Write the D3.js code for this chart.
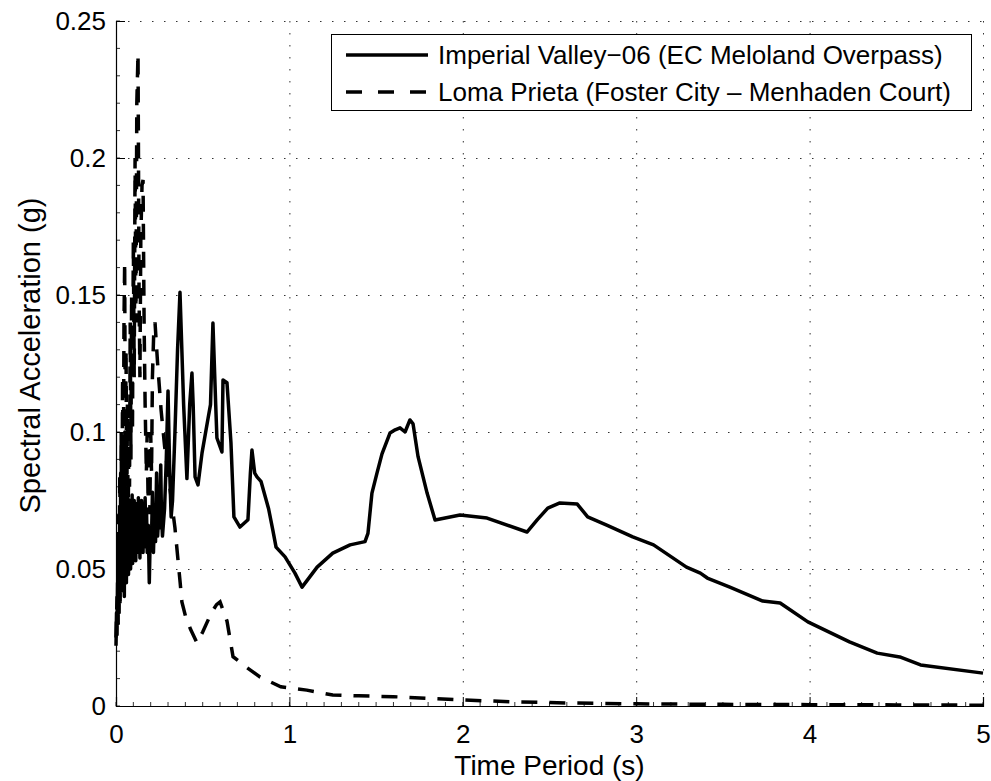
<!DOCTYPE html>
<html>
<head>
<meta charset="utf-8">
<script src="https://cdn.jsdelivr.net/npm/d3@7"></script>
<style>
  html, body { margin: 0; padding: 0; background: #fff; }
  svg { display: block; }
  text { font-family: "Liberation Sans", Arial, Helvetica, sans-serif; fill: #000; }
</style>
</head>
<body>
<svg id="chart" width="991" height="781"></svg>
<script>
// ---------------- DATA ----------------
const seriesNames = ["Imperial Valley\u221206 (EC Meloland Overpass)", "Loma Prieta (Foster City \u2013 Menhaden Court)"];

const xTicks = [0, 1, 2, 3, 4, 5];
const yTicks = [0, 0.05, 0.1, 0.15, 0.2, 0.25];
const yTickLabels = ["0", "0.05", "0.1", "0.15", "0.2", "0.25"];
const xLabel = "Time Period (s)";
const yLabel = "Spectral Acceleration (g)";

// Imperial Valley-06 (solid) : [period s, Sa g]
const imperialValley = [
  [0,0.022],[0.003,0.034],[0.006,0.026],[0.009,0.045],[0.012,0.030],[0.015,0.058],[0.018,0.034],
  [0.021,0.068],[0.024,0.038],[0.027,0.085],[0.030,0.042],[0.033,0.098],[0.036,0.046],[0.039,0.090],
  [0.042,0.044],[0.045,0.082],[0.048,0.040],[0.051,0.100],[0.054,0.050],[0.057,0.078],[0.060,0.045],
  [0.063,0.074],[0.066,0.052],[0.069,0.076],[0.072,0.048],[0.075,0.073],[0.078,0.054],[0.081,0.075],
  [0.084,0.050],[0.087,0.074],[0.090,0.056],[0.093,0.077],[0.096,0.052],[0.099,0.072],[0.102,0.055],
  [0.105,0.075],[0.108,0.058],[0.111,0.073],[0.114,0.053],[0.117,0.070],[0.120,0.056],[0.123,0.074],
  [0.126,0.060],[0.129,0.076],[0.132,0.056],[0.135,0.070],[0.138,0.054],[0.141,0.074],[0.144,0.058],
  [0.147,0.075],[0.150,0.060],[0.153,0.072],[0.156,0.056],[0.160,0.074],[0.164,0.058],[0.168,0.076],
  [0.172,0.060],[0.176,0.072],[0.180,0.056],[0.186,0.066],[0.192,0.045],[0.198,0.064],
  [0.204,0.058],[0.210,0.078],[0.216,0.056],[0.222,0.070],[0.228,0.060],[0.234,0.085],[0.240,0.062],
  [0.246,0.069],[0.250,0.065],[0.258,0.088],[0.262,0.070],[0.268,0.062],[0.280,0.072],[0.290,0.090],
  [0.300,0.115],[0.310,0.085],[0.318,0.069],[0.326,0.075],[0.340,0.100],[0.355,0.130],[0.369,0.151],
  [0.390,0.110],[0.409,0.083],[0.425,0.110],[0.438,0.1215],[0.445,0.110],[0.456,0.0836],[0.473,0.0807],
  [0.496,0.0923],[0.531,0.105],[0.545,0.110],[0.559,0.1398],[0.575,0.110],[0.582,0.0978],[0.611,0.0927],
  [0.617,0.119],[0.640,0.118],[0.663,0.096],[0.680,0.069],[0.715,0.0653],[0.761,0.068],[0.775,0.085],
  [0.784,0.0934],[0.800,0.085],[0.813,0.0836],[0.836,0.082],[0.880,0.072],[0.905,0.064],[0.923,0.058],
  [0.975,0.0544],[1.032,0.0485],[1.073,0.0434],[1.160,0.0507],[1.250,0.0558],[1.350,0.0588],[1.436,0.060],
  [1.453,0.063],[1.476,0.0777],[1.505,0.085],[1.534,0.092],[1.580,0.0996],[1.610,0.1008],[1.638,0.1015],
  [1.667,0.100],[1.695,0.1044],[1.713,0.103],[1.742,0.091],[1.794,0.0777],[1.840,0.0679],[1.984,0.0697],
  [2.140,0.0686],[2.370,0.0635],[2.430,0.068],[2.490,0.0722],[2.560,0.0741],[2.660,0.0737],[2.720,0.069],
  [2.830,0.066],[2.980,0.0617],[3.100,0.0588],[3.290,0.0507],[3.370,0.0485],[3.410,0.0467],[3.540,0.0434],
  [3.730,0.0383],[3.830,0.0376],[3.990,0.0307],[4.230,0.0234],[4.390,0.0193],[4.520,0.0179],[4.640,0.015],
  [5.000,0.012]
];

// Loma Prieta (dashed) : [period s, Sa g]
const lomaPrieta = [
  [0,0.025],[0.006,0.040],[0.010,0.030],[0.014,0.070],[0.018,0.045],[0.022,0.085],[0.026,0.050],
  [0.030,0.100],[0.034,0.060],[0.038,0.120],[0.042,0.075],[0.046,0.140],[0.050,0.162],[0.054,0.090],
  [0.058,0.130],[0.062,0.070],[0.066,0.110],[0.070,0.065],[0.074,0.100],[0.078,0.080],[0.082,0.140],
  [0.086,0.090],[0.090,0.150],[0.095,0.100],[0.100,0.170],[0.105,0.120],[0.110,0.200],
  [0.115,0.140],[0.120,0.220],[0.127,0.238],[0.133,0.150],[0.138,0.120],[0.143,0.170],[0.150,0.190],
  [0.156,0.192],[0.162,0.140],[0.168,0.110],[0.175,0.085],[0.180,0.100],[0.185,0.075],[0.190,0.090],
  [0.195,0.070],[0.200,0.100],[0.205,0.085],[0.210,0.120],[0.217,0.135],[0.225,0.140],[0.240,0.125],
  [0.260,0.108],[0.280,0.095],[0.300,0.085],[0.320,0.075],[0.340,0.065],[0.355,0.055],[0.370,0.045],
  [0.380,0.038],[0.400,0.033],[0.430,0.028],[0.467,0.023],[0.500,0.027],[0.550,0.034],[0.580,0.037],
  [0.600,0.038],[0.640,0.031],[0.675,0.018],[0.755,0.014],[0.830,0.0106],[0.950,0.007],[1.100,0.0058],
  [1.250,0.004],[1.400,0.0037],[1.600,0.0034],[1.800,0.0028],[2.000,0.0022],[2.300,0.0015],[2.600,0.0011],
  [3.000,0.0008],[3.500,0.0006],[4.000,0.0005],[4.500,0.0004],[5.000,0.0003]
];

// ---------------- CHART ----------------
const svg = d3.select("#chart");
const margin = {left: 116, right: 991 - 983, top: 21, bottom: 781 - 706};
const W = 991 - margin.left - margin.right;
const H = 781 - margin.top - margin.bottom;

const x = d3.scaleLinear().domain([0, 5]).range([0, W]);
const y = d3.scaleLinear().domain([0, 0.25]).range([H, 0]);

const g = svg.append("g").attr("transform", `translate(${margin.left},${margin.top})`);

// grid (dotted)
const grid = g.append("g").attr("class", "grid");
grid.selectAll("line.gx").data(xTicks.filter(d => d > 0)).join("line")
  .attr("x1", d => x(d) + 0.5).attr("x2", d => x(d) + 0.5)
  .attr("y1", 0).attr("y2", H)
  .attr("stroke", "#333").attr("stroke-width", 1).attr("stroke-dasharray", "1.5,10.5");
grid.selectAll("line.gy").data(yTicks.filter(d => d > 0)).join("line")
  .attr("x1", 0).attr("x2", W)
  .attr("y1", d => y(d) + 0.5).attr("y2", d => y(d) + 0.5)
  .attr("stroke", "#333").attr("stroke-width", 1).attr("stroke-dasharray", "1.5,10.5");

// axes
const xAxis = d3.axisBottom(x).tickValues(xTicks).tickFormat(d3.format("d")).tickSize(-9).tickPadding(19);
const yAxis = d3.axisLeft(y).tickValues(yTicks).tickFormat((d, i) => yTickLabels[i]).tickSize(-9).tickPadding(10);

const xa = g.append("g").attr("transform", `translate(0,${H})`).call(xAxis);
const ya = g.append("g").call(yAxis);
[xa, ya].forEach(a => {
  a.select(".domain").attr("stroke", "#000").attr("stroke-width", 1.2);
  a.selectAll(".tick line").attr("stroke", "#000").attr("stroke-width", 1);
  a.selectAll(".tick text").attr("font-size", 26).attr("font-family", "Liberation Sans, Arial, sans-serif").attr("fill", "#000");
});

// minor ticks
const xMinor = d3.range(0, 5.0001, 0.1);
g.append("g").selectAll("line").data(xMinor).join("line")
  .attr("x1", d => x(d)).attr("x2", d => x(d)).attr("y1", H).attr("y2", H - 4)
  .attr("stroke", "#000").attr("stroke-width", 0.8);
const yMinor = d3.range(0, 0.25001, 0.01);
g.append("g").selectAll("line").data(yMinor).join("line")
  .attr("x1", 0).attr("x2", 4).attr("y1", d => y(d)).attr("y2", d => y(d))
  .attr("stroke", "#000").attr("stroke-width", 0.8);

// lines
const line = d3.line().x(d => x(d[0])).y(d => y(d[1]));
g.append("path").datum(imperialValley).attr("d", line)
  .attr("fill", "none").attr("stroke", "#000").attr("stroke-width", 3.5).attr("stroke-linejoin", "round");
g.append("path").datum(lomaPrieta).attr("d", line)
  .attr("fill", "none").attr("stroke", "#000").attr("stroke-width", 3.5).attr("stroke-dasharray", "16,12");

// axis labels
svg.append("text").attr("x", margin.left + W / 2).attr("y", 775).attr("text-anchor", "middle")
  .attr("font-size", 28).text(xLabel);
svg.append("text").attr("transform", `translate(40,${margin.top + H / 2 - 8}) rotate(-90)`)
  .attr("text-anchor", "middle").attr("font-size", 29).text(yLabel);

// legend
const lg = svg.append("g");
lg.append("rect").attr("x", 331.5).attr("y", 34.5).attr("width", 640).attr("height", 76)
  .attr("fill", "#fff").attr("stroke", "#000").attr("stroke-width", 1);
const rows = [{name: seriesNames[0], dash: null, yy: 55}, {name: seriesNames[1], dash: "16,16", yy: 92}];
rows.forEach(r => {
  lg.append("line").attr("x1", 346).attr("x2", 428).attr("y1", r.yy).attr("y2", r.yy)
    .attr("stroke", "#000").attr("stroke-width", 3.5).attr("stroke-dasharray", r.dash);
  lg.append("text").attr("x", 438).attr("y", r.yy).attr("dy", "0.35em").attr("font-size", 26).text(r.name);
});
</script>
</body>
</html>
